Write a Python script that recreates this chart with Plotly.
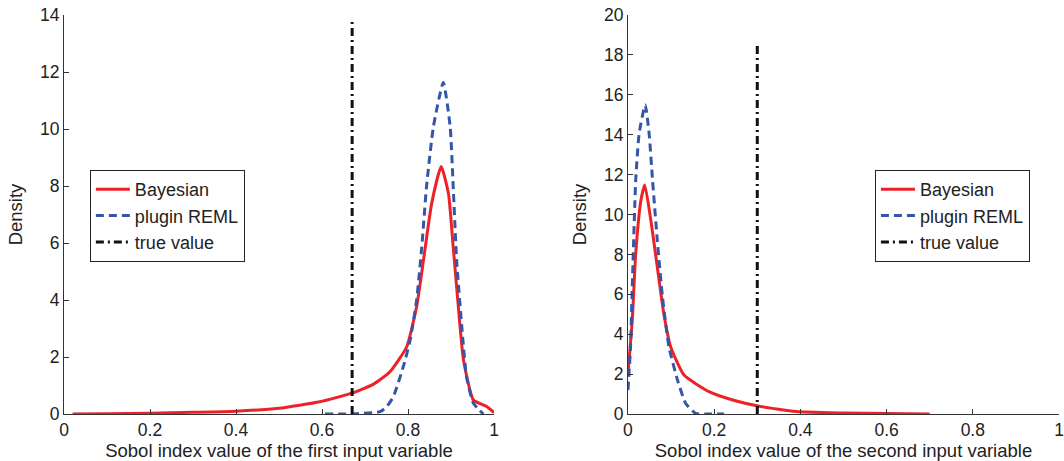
import plotly.graph_objects as go

# ---- data ----
left_bayes_x = [0.02, 0.1, 0.2, 0.3, 0.4, 0.5, 0.595, 0.669, 0.72, 0.758, 0.797, 0.82, 0.836, 0.855, 0.877, 0.894, 0.905, 0.921, 0.929, 0.952, 0.983, 1.0]
left_bayes_y = [0.0, 0.01, 0.03, 0.06, 0.1, 0.2, 0.43, 0.73, 1.05, 1.48, 2.36, 3.77, 5.4, 7.39, 8.68, 7.74, 5.87, 3.06, 1.89, 0.49, 0.26, 0.05]
left_reml_x = [0.607, 0.68, 0.735, 0.75, 0.766, 0.789, 0.805, 0.82, 0.832, 0.843, 0.859, 0.882, 0.898, 0.905, 0.913, 0.925, 0.936, 0.952, 0.975]
left_reml_y = [0.0, 0.01, 0.08, 0.25, 0.61, 1.66, 2.6, 4.0, 5.87, 7.98, 10.08, 11.63, 10.08, 7.98, 5.4, 3.06, 1.31, 0.38, 0.0]
left_true_x = [0.67, 0.67]
left_true_y = [0, 13.8]

right_bayes_x = [0.0, 0.01, 0.018, 0.03, 0.039, 0.053, 0.068, 0.083, 0.099, 0.13, 0.188, 0.243, 0.302, 0.39, 0.5, 0.6, 0.7]
right_bayes_y = [2.04, 4.7, 8.05, 10.7, 11.48, 9.72, 7.38, 5.05, 3.37, 1.95, 1.12, 0.70, 0.40, 0.12, 0.05, 0.02, 0.0]
right_reml_x = [0.0, 0.006, 0.01, 0.018, 0.026, 0.04, 0.049, 0.057, 0.068, 0.08, 0.095, 0.115, 0.134, 0.157, 0.19, 0.223]
right_reml_y = [1.2, 3.37, 6.38, 11.73, 14.07, 15.49, 14.07, 11.73, 8.72, 5.88, 3.37, 1.70, 0.53, 0.03, 0.0, 0.0]
right_true_x = [0.3, 0.3]
right_true_y = [0, 18.5]

series_names = ["Bayesian", "plugin REML", "true value"]
x_ticks = [0, 0.2, 0.4, 0.6, 0.8, 1]
x_ticklabels = ["0", "0.2", "0.4", "0.6", "0.8", "1"]
left_y_ticks = [0, 2, 4, 6, 8, 10, 12, 14]
right_y_ticks = [0, 2, 4, 6, 8, 10, 12, 14, 16, 18, 20]
x_titles = ["Sobol index value of the first input variable", "Sobol index value of the second input variable"]

RED = "#EC2228"
BLUE = "#3556A8"
BLACK = "#111111"
FONT = "Liberation Sans, Arial, sans-serif"
TXT = "#222222"

fig = go.Figure()

def add_panel(xa, ya, legend, bx, by, rx, ry, tx, ty):
    fig.add_trace(go.Scatter(x=bx, y=by, mode="lines", name=series_names[0], xaxis=xa, yaxis=ya, legend=legend,
                             line=dict(color=RED, width=3, shape="spline", smoothing=0.5)))
    fig.add_trace(go.Scatter(x=rx, y=ry, mode="lines", name=series_names[1], xaxis=xa, yaxis=ya, legend=legend,
                             line=dict(color=BLUE, width=3, dash="8px,5px", shape="spline", smoothing=0.5)))
    fig.add_trace(go.Scatter(x=tx, y=ty, mode="lines", name=series_names[2], xaxis=xa, yaxis=ya, legend=legend,
                             line=dict(color=BLACK, width=3, dash="8px,4px,2px,4px")))

add_panel("x", "y", "legend", left_bayes_x, left_bayes_y, left_reml_x, left_reml_y, left_true_x, left_true_y)
add_panel("x2", "y2", "legend2", right_bayes_x, right_bayes_y, right_reml_x, right_reml_y, right_true_x, right_true_y)

axis_common = dict(showgrid=False, zeroline=False, showline=True, linecolor="#333333", linewidth=1,
                   ticks="inside", ticklen=5, tickcolor="#333333", mirror=False, automargin=False,
                   tickfont=dict(family=FONT, size=17.5, color=TXT))

legend_common = dict(yanchor="top", xanchor="left", bgcolor="white", bordercolor="#222222", borderwidth=1,
                     font=dict(family=FONT, size=18, color=TXT), tracegroupgap=0, itemwidth=34)

fig.update_layout(
    width=1064, height=461,
    margin=dict(l=64, r=5, t=15, b=47),
    paper_bgcolor="white", plot_bgcolor="white",
    font=dict(family=FONT, size=17, color=TXT),
    xaxis=dict(domain=[0, 0.4322], range=[0, 1], tickvals=x_ticks, ticktext=x_ticklabels,
               title=dict(text=x_titles[0], standoff=2, font=dict(size=18.5)), anchor="y", **axis_common),
    yaxis=dict(domain=[0, 1], range=[0, 14], tickvals=left_y_ticks,
               title=dict(text="Density", standoff=12, font=dict(size=18.5)), anchor="x", **axis_common),
    xaxis2=dict(domain=[0.5668, 1], range=[0, 1], tickvals=x_ticks, ticktext=x_ticklabels,
                title=dict(text=x_titles[1], standoff=2, font=dict(size=18.5)), anchor="y2", **axis_common),
    yaxis2=dict(domain=[0, 1], range=[0, 20], tickvals=right_y_ticks,
                title=dict(text="Density", standoff=12, font=dict(size=18.5)), anchor="x2", **axis_common),
    legend=dict(x=0.026, y=0.6115, **legend_common),
    legend2=dict(x=0.815, y=0.6115, **legend_common),
    showlegend=True,
)

fig.write_html("out.html", config={"displayModeBar": False},
               post_script="document.body.style.margin='0';document.body.style.overflow='hidden';")
